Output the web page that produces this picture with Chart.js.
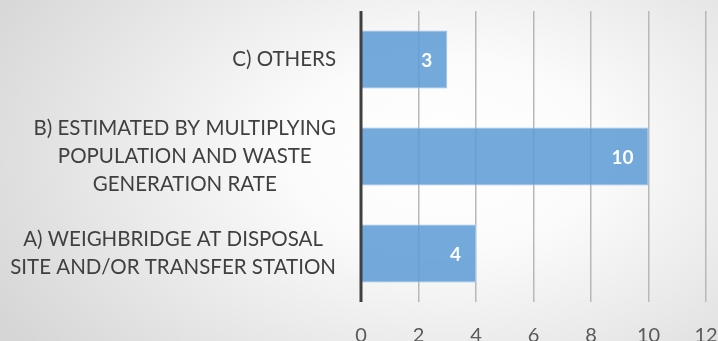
<!DOCTYPE html>
<html>
<head>
<meta charset="utf-8">
<script src="https://cdn.jsdelivr.net/npm/chart.js@4/dist/chart.umd.min.js"></script>
<style>
  html, body { margin: 0; padding: 0; }
  body {
    width: 718px; height: 341px; overflow: hidden;
    background: radial-gradient(ellipse 72% 95% at 62% 45%, #ffffff 0%, #fbfbfb 30%, #d6d6d6 100%);
  }
  #wrap { position: relative; width: 718px; height: 341px; }
</style>
</head>
<body>
<div id="wrap"><canvas id="chart"></canvas></div>
<script>
/* ── Data (bottom to top, as in the source sheet) ── */
const categories = [
  ["A) WEIGHBRIDGE AT DISPOSAL", "SITE AND/OR TRANSFER STATION"],
  ["B) ESTIMATED BY MULTIPLYING", "POPULATION AND WASTE", "GENERATION RATE"],
  ["C) OTHERS"],
];
const counts     = [4, 10, 3];
const xTicks     = [0, 2, 4, 6, 8, 10, 12];

const FONT = "Lato, 'Open Sans', sans-serif";

/* ── Category labels: block right-aligned, lines centred; axis line on top ── */
const labelPlugin = {
  id: "labels",
  afterDatasetsDraw(chart) {
    const { ctx, chartArea, scales } = chart;
    const xs = scales.x, ys = scales.y;

    // value labels inside the bar end
    const meta = chart.getDatasetMeta(0);
    ctx.save();
    ctx.font = "bold 19px " + FONT;
    ctx.fillStyle = "#ffffff";
    ctx.textAlign = "right";
    ctx.textBaseline = "middle";
    meta.data.forEach((bar, i) => {
      ctx.fillText(String(counts[i]), bar.x - 15, bar.y + 1);
    });

    // vertical axis line
    const x0 = xs.getPixelForValue(0);
    ctx.strokeStyle = "#404040";
    ctx.lineWidth = 3;
    ctx.beginPath();
    ctx.moveTo(x0, chartArea.top);
    ctx.lineTo(x0, chartArea.bottom);
    ctx.stroke();

    // category labels
    ctx.font = "20.5px " + FONT;
    ctx.fillStyle = "#404040";
    ctx.textAlign = "center";
    const lineH = 28;
    categories.forEach((lines, i) => {
      const yc = ys.getPixelForValue(i);
      const w = Math.max(...lines.map(l => ctx.measureText(l).width));
      const right = chartArea.left - 25;
      const cx = right - w / 2;
      const top = yc - (lines.length - 1) * lineH / 2;
      lines.forEach((l, k) => ctx.fillText(l, cx, top + k * lineH));
    });
    ctx.restore();
  },
};

new Chart(document.getElementById("chart"), {
  type: "bar",
  data: {
    labels: categories,
    datasets: [{
      data: counts,
      backgroundColor: "rgba(91, 155, 213, 0.85)",
      borderColor: "#9dc3e6",
      borderWidth: 1,
      barPercentage: 0.6,
      categoryPercentage: 1,
    }],
  },
  options: {
    indexAxis: "y",
    responsive: true,
    maintainAspectRatio: false,
    animation: false,
    layout: { padding: { top: 11, right: 12, left: 0, bottom: 0 } },
    plugins: { legend: { display: false }, tooltip: { enabled: false } },
    scales: {
      x: {
        min: xTicks[0],
        max: xTicks[xTicks.length - 1],
        afterBuildTicks: s => { s.ticks = xTicks.map(v => ({ value: v })); },
        afterFit: s => { s.height = 39; s.paddingLeft = 0; s.paddingRight = 0; },
        grid: { color: "#b8b8b8", lineWidth: 1.5, drawTicks: false },
        border: { display: false },
        ticks: {
          padding: 22,
          color: "#595959",
          font: { family: FONT, size: 20 },
        },
      },
      y: {
        reverse: true,
        afterFit: s => { s.width = 361; s.paddingTop = 0; s.paddingBottom = 0; },
        grid: { display: false },
        border: { display: false },
        ticks: { display: false },
      },
    },
  },
  plugins: [labelPlugin],
});
</script>
</body>
</html>
